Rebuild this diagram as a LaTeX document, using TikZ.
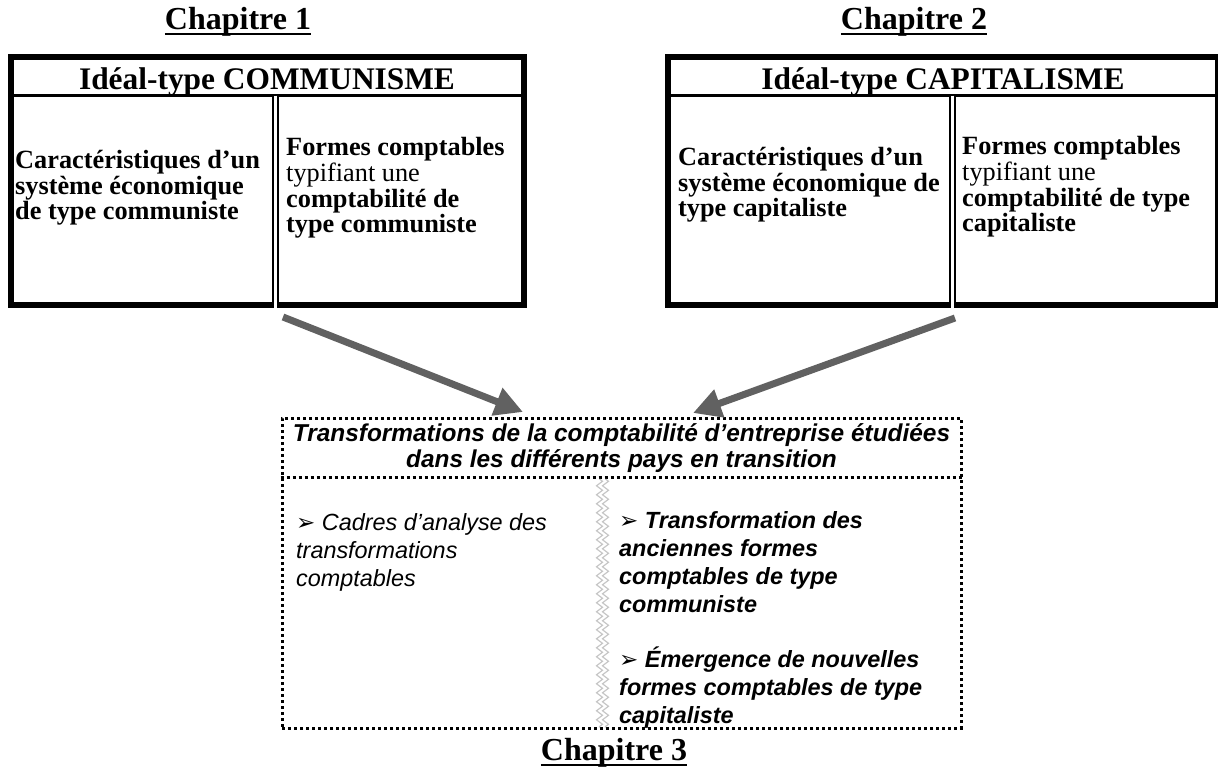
\documentclass[tikz,border=0pt]{standalone}
\usepackage{fontspec}
\setmainfont{Liberation Serif}
\setsansfont{Liberation Sans}
\newfontfamily\dingfont{DejaVu Sans}
\usetikzlibrary{arrows.meta,calc,decorations.pathmorphing}

\newcommand{\puce}{{\dingfont\fontsize{23}{24}\selectfont ➢}}

\begin{document}
\begin{tikzpicture}[x=1pt,y=-1pt]
  \tikzstyle{chap} = [anchor=base, inner sep=0pt, font=\fontsize{32}{36}\selectfont\bfseries]
  \tikzstyle{ideal} = [rectangle, draw=black, line width=6pt, inner sep=0pt]
  \tikzstyle{ihead} = [anchor=base, inner sep=0pt, font=\fontsize{31.4}{35}\selectfont\bfseries]
  \tikzstyle{cell} = [anchor=west, inner sep=0pt, align=left, font=\fontsize{26.3}{25.6}\selectfont]
  \tikzstyle{dbl} = [draw=black, line width=2pt, double=white, double distance=2.5pt]
  \tikzstyle{study} = [rectangle, draw=black, line width=3pt, dash pattern=on 3pt off 3pt, inner sep=0pt]
  \tikzstyle{dots} = [draw=black, line width=3pt, dash pattern=on 3pt off 3pt]
  \tikzstyle{note} = [anchor=north west, inner sep=0pt, align=left, font=\fontsize{23.4}{27.8}\selectfont\sffamily\itshape]
  \tikzstyle{bighead} = [anchor=north, inner sep=0pt, align=center, font=\fontsize{24.4}{26}\selectfont\sffamily\bfseries\itshape]
  \tikzstyle{bigarrow} = [line width=7pt, draw=black!62, -{Triangle[length=28pt,width=28pt]}]
  \tikzstyle{wave} = [draw=black!22, line width=1.2pt, decorate, decoration={zigzag, segment length=9pt, amplitude=3pt}]

  \useasboundingbox (0,0) rectangle (1218,771);

  % chapter titles
  \node (chap1) [chap] at (238,29) {Chapitre 1};
  \node (chap2) [chap] at (914,29) {Chapitre 2};
  \node (chap3) [chap] at (614,760) {Chapitre 3};
  \foreach \c in {chap1,chap2,chap3}
    \draw[line width=2.5pt] ($(\c.base west)+(0,5)$) -- ($(\c.base east)+(0,5)$);

  % ideal types
  \node (boxL) [ideal, minimum width=513pt, minimum height=248pt] at (267.5,181) {};
  \node (boxR) [ideal, minimum width=550pt, minimum height=248pt] at (943,181) {};
  \draw[line width=3pt] ($(boxL.north west)+(0,41.5)$) -- ($(boxL.north east)+(0,41.5)$);
  \draw[line width=3pt] ($(boxR.north west)+(0,41.5)$) -- ($(boxR.north east)+(0,41.5)$);
  \draw[dbl] ($(boxL.north west)+(267.5,41.5)$) -- ($(boxL.south west)+(267.5,0)$);
  \draw[dbl] ($(boxR.north west)+(287.5,41.5)$) -- ($(boxR.south west)+(287.5,0)$);

  \node (headL) [ihead] at (267,89) {Idéal-type COMMUNISME};
  \node (headR) [ihead] at (943,89) {Idéal-type CAPITALISME};

  \node (ecoL) [cell] at (15,188) {\textbf{Caractéristiques d’un}\\ \textbf{système économique}\\ \textbf{de type communiste}};
  \node (cptL) [cell] at (286,188) {\textbf{Formes comptables}\\ typifiant une\\ \textbf{comptabilité de}\\ \textbf{type communiste}};
  \node (ecoR) [cell] at (678,185) {\textbf{Caractéristiques d’un}\\ \textbf{système économique de}\\ \textbf{type capitaliste}};
  \node (cptR) [cell] at (962,187) {\textbf{Formes comptables}\\ typifiant une\\ \textbf{comptabilité de type}\\ \textbf{capitaliste}};

  % transitions
  \node (boxC) [study, minimum width=679pt, minimum height=310pt] at (621.5,573) {};
  \draw[dots] ($(boxC.north west)+(0,61)$) -- ($(boxC.north east)+(0,61)$);
  \draw[wave] ($(boxC.north west)+(319,62.5)$) -- ($(boxC.south west)+(319,-2)$);
  \draw[wave] ($(boxC.north west)+(325,62.5)$) -- ($(boxC.south west)+(325,-2)$);

  \node (trans) [bighead] at (621.5,423) {\strut Transformations de la comptabilité d’entreprise étudiées\\ dans les différents pays en transition};
  \node (cadres) [note] at (296,511) {\strut\puce{} Cadres d’analyse des\\ transformations\\ comptables};
  \node (formes) [note, font=\fontsize{23.4}{27.8}\selectfont\sffamily\bfseries\itshape] at (619,509) {\strut\puce{} Transformation des\\ anciennes formes\\ comptables de type\\ communiste\\[27.8pt] \puce{} Émergence de nouvelles\\ formes comptables de type\\ capitaliste};

  \coordinate (fromL) at (283,317);
  \coordinate (toL) at (523,412);
  \coordinate (fromR) at (955,318);
  \coordinate (toR) at (693,413);
  \draw[bigarrow] (fromL) -- (toL);
  \draw[bigarrow] (fromR) -- (toR);
\end{tikzpicture}
\end{document}
